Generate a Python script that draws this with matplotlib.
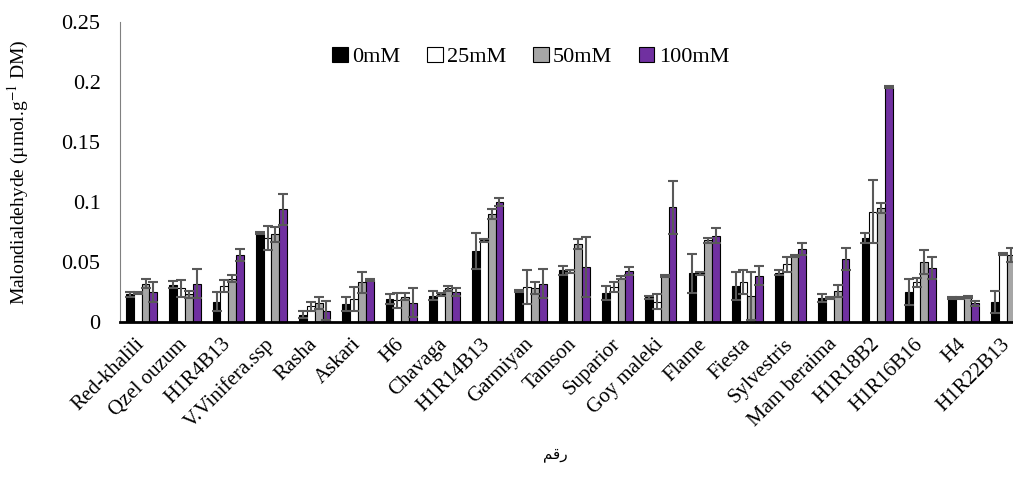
import numpy as np
import matplotlib
matplotlib.use('Agg')
import matplotlib.pyplot as plt

cultivars = ['Red-khalili', 'Qzel ouzum', 'H1R4B13', 'V.Vinifera.ssp', 'Rasha',
             'Askari', 'H6', 'Chavaga', 'H1R14B13', 'Garmiyan', 'Tamson',
             'Suparior', 'Goy maleki', 'Flame', 'Fiesta', 'Sylvestris',
             'Mam beraima', 'H1R18B2', 'H1R16B16', 'H4', 'H1R22B13']
treatments = ['0mM', '25mM', '50mM', '100mM']

mda_0 = [0.023, 0.031, 0.017, 0.074, 0.006, 0.015, 0.019, 0.022, 0.059, 0.026, 0.043,
         0.024, 0.0205, 0.0405, 0.030, 0.041, 0.020, 0.070, 0.025, 0.020, 0.0165]
mda_25 = [0.024, 0.028, 0.030, 0.070, 0.013, 0.019, 0.018, 0.023, 0.068, 0.029, 0.042,
          0.029, 0.017, 0.0405, 0.033, 0.048, 0.020, 0.092, 0.033, 0.020, 0.0565]
mda_50 = [0.032, 0.023, 0.036, 0.073, 0.016, 0.033, 0.021, 0.028, 0.090, 0.028, 0.065,
          0.037, 0.0385, 0.068, 0.022, 0.055, 0.026, 0.095, 0.050, 0.021, 0.056]
mda_100 = [0.025, 0.032, 0.056, 0.094, 0.0095, 0.035, 0.016, 0.025, 0.100, 0.032, 0.046,
           0.0425, 0.0955, 0.072, 0.0385, 0.0605, 0.0525, 0.196, 0.045, 0.0155, 0.087]

err_0 = [0.002, 0.003, 0.008, 0.001, 0.003, 0.006, 0.004, 0.004, 0.015, 0.001, 0.004,
         0.006, 0.001, 0.016, 0.012, 0.002, 0.003, 0.004, 0.011, 0.001, 0.009]
err_25 = [0.001, 0.007, 0.005, 0.010, 0.004, 0.010, 0.006, 0.001, 0.001, 0.014, 0.001,
          0.004, 0.006, 0.001, 0.010, 0.006, 0.001, 0.026, 0.004, 0.001, 0.001]
err_50 = [0.0035, 0.003, 0.003, 0.006, 0.005, 0.009, 0.003, 0.002, 0.004, 0.005, 0.004,
          0.001, 0.001, 0.002, 0.020, 0.001, 0.005, 0.004, 0.010, 0.001, 0.006]
err_100 = [0.008, 0.012, 0.005, 0.013, 0.008, 0.001, 0.012, 0.003, 0.003, 0.012, 0.025,
           0.003, 0.022, 0.006, 0.008, 0.005, 0.009, 0.001, 0.009, 0.002, 0.002]

values = [mda_0, mda_25, mda_50, mda_100]
errors = [err_0, err_25, err_50, err_100]
colors = ['#000000', '#ffffff', '#a6a6a6', '#7030a0']

plt.rcParams['font.family'] = ['Liberation Serif', 'DejaVu Sans']
plt.rcParams['mathtext.fontset'] = 'stix'
plt.rcParams['font.size'] = 16

fig = plt.figure(figsize=(10.13, 4.84), dpi=100)
ax = fig.add_axes([0.1185, 0.3347, 0.8815, 0.6198])

x = np.arange(len(cultivars))
w = 0.18
for i, (vals, errs, c, lbl) in enumerate(zip(values, errors, colors, treatments)):
    ax.bar(x + (i - 1.5) * w, vals, w, color=c, edgecolor='black', linewidth=0.8,
           label=lbl, zorder=2)
    ax.errorbar(x + (i - 1.5) * w, vals, yerr=errs, fmt='none', ecolor='#595959',
                elinewidth=1.5, capsize=3.5, capthick=1.5, zorder=3)

ax.set_xlim(-0.5, 20.14)
ax.set_ylim(0, 0.25)
ax.set_yticks([0, 0.05, 0.1, 0.15, 0.2, 0.25])
ax.set_yticklabels(['0', '0.05', '0.1', '0.15', '0.2', '0.25'], fontsize=16)
ax.set_xticks(x)
ax.set_xticklabels(cultivars, rotation=45, ha='right', va='center',
                   rotation_mode='anchor', fontsize=15)
ax.tick_params(axis='y', length=0, pad=14)
ax.tick_params(axis='x', length=0, pad=14)

for s in ['top', 'right']:
    ax.spines[s].set_visible(False)
ax.spines['left'].set_color('#808080')
ax.spines['left'].set_linewidth(0.8)
ax.spines['bottom'].set_linewidth(2)

ax.set_ylabel('Malondialdehyde (µmol.g$^{-1}$ DM)', fontsize=14)
ax.yaxis.set_label_coords(-0.1, 0.5)

# Arabic "رقم" written in shaped presentation forms, visual order
fig.text(0.548, 0.06, '\ufee2\ufed7\ufead', family=['DejaVu Sans'], fontsize=11,
         ha='center', va='center')

ax.legend(loc='upper center', bbox_to_anchor=(0.46, 0.985), ncol=4, frameon=False,
          handlelength=0.7, handleheight=0.7, handletextpad=0.2, columnspacing=1.2,
          fontsize=16)

fig.savefig('out.png', dpi=100)
